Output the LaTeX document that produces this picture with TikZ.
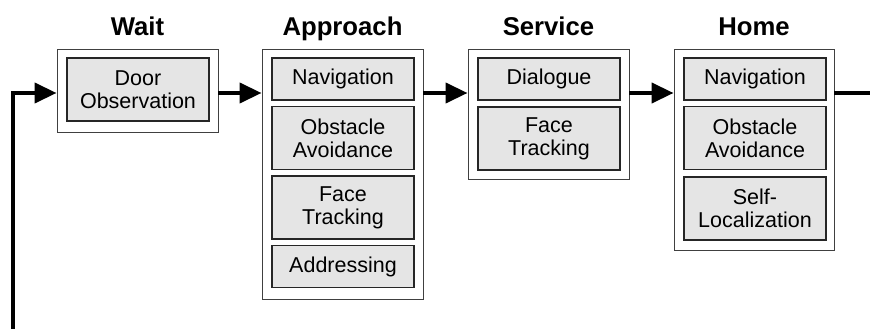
\documentclass[tikz,border=0pt]{standalone}
\usepackage{fontspec}
\setmainfont{Liberation Sans}
\usetikzlibrary{arrows.meta,positioning}

\begin{document}
\begin{tikzpicture}[x=1pt,y=-1pt,
	 stage/.style={draw=black!75, line width=0.9pt, fill=white, inner sep=0pt, minimum width=161pt},
	 task/.style={draw=black!85, line width=1.1pt, fill=black!10, inner sep=0pt, minimum width=142pt, align=center, font=\fontsize{21.5}{23.3}\selectfont},
	 oneline/.style={task, minimum height=42pt},
	 twoline/.style={task, minimum height=63pt},
	 title/.style={anchor=base, font=\fontsize{25.7}{28}\selectfont\bfseries},
	 flow/.style={line width=4pt, -{Triangle[length=22pt,width=20pt]}},
	 tail/.style={line width=4pt}]
	 \useasboundingbox (0,0) rectangle (870,329);
	 \coordinate (lvl) at (0,93);
	 
	 % stages
	 \node[stage, minimum height=83pt] (wait) at (137.5,90.5) {};
	 \node[stage, minimum height=250pt] (approach) at (342.5,174) {};
	 \node[stage, minimum height=130pt] (service) at (548.5,114) {};
	 \node[stage, minimum height=201pt, minimum width=160pt] (home) at (754,149.5) {};
	 
	 \node[title] (waittitle) at ([yshift=13pt]wait.north) {Wait};
	 \node[title] (approachtitle) at ([yshift=13pt]approach.north) {Approach};
	 \node[title] (servicetitle) at ([yshift=13pt]service.north) {Service};
	 \node[title] (hometitle) at ([yshift=13pt]home.north) {Home};
	 
	 % tasks
	 \node[twoline] (door) at (138,89.5) {Door\\Observation};
	 
	 \node[oneline] (appnav) at (343,79) {Navigation};
	 \node[twoline] (appobst) at (343,138) {Obstacle\\Avoidance};
	 \node[twoline] (appface) at (343,207.5) {Face\\Tracking};
	 \node[oneline] (appaddr) at (343,266.5) {Addressing};
	 
	 \node[oneline] (dialogue) at (549,79) {Dialogue};
	 \node[twoline] (servface) at (549,138.5) {Face\\Tracking};
	 
	 \node[oneline] (homenav) at (755,79) {Navigation};
	 \node[twoline] (homeobst) at (755,138) {Obstacle\\Avoidance};
	 \node[twoline] (homeself) at (755,208.5) {Self-\\Localization};
	 
	 % transitions
	 \coordinate (loopbottom) at (13,329);
	 \coordinate (loopcorner) at (13,93);
	 \coordinate (loopexit) at (870,93);
	 \draw[flow] (loopbottom) -- (loopcorner) -- (wait.west |- lvl);
	 \draw[flow] (wait.east |- lvl) -- (approach.west |- lvl);
	 \draw[flow] (approach.east |- lvl) -- (service.west |- lvl);
	 \draw[flow] (service.east |- lvl) -- (home.west |- lvl);
	 \draw[tail] (home.east |- lvl) -- (loopexit);
\end{tikzpicture}
\end{document}
